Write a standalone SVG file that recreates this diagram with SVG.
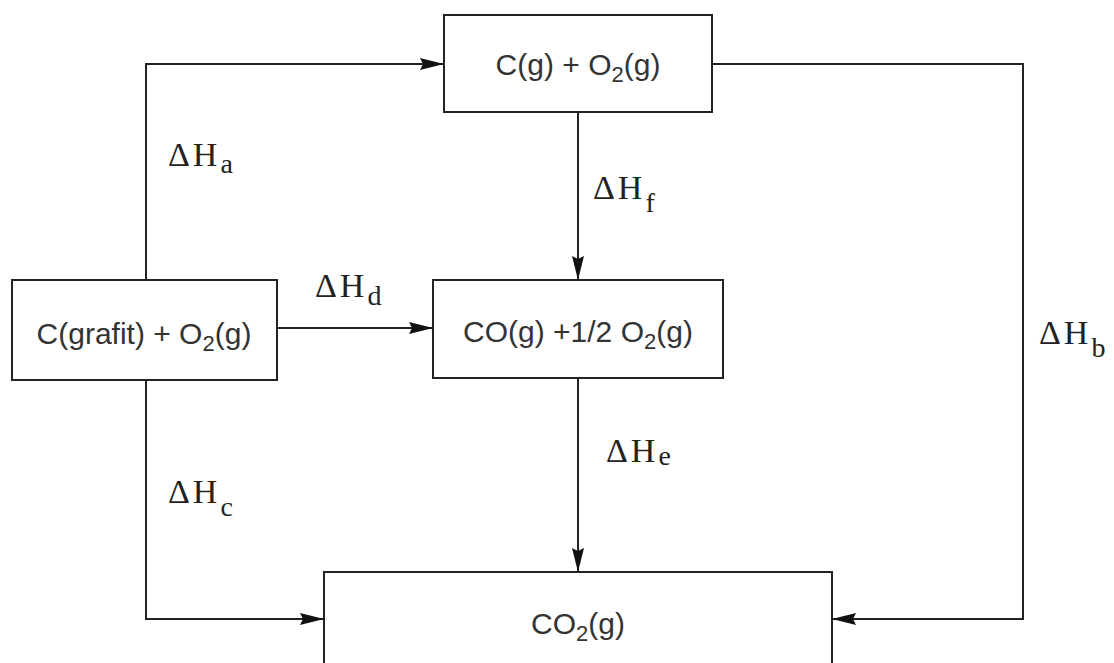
<svg xmlns="http://www.w3.org/2000/svg" width="1114" height="663" viewBox="0 0 1114 663">
<style>
.box{fill:#fff;stroke:#222;stroke-width:2}
.t{font-family:"Liberation Sans",Arial,sans-serif;font-size:30px;fill:#333;text-anchor:middle}
.sub{font-size:22px}
.dh{font-family:"Liberation Serif","Times New Roman",serif;font-size:34px;fill:#222;letter-spacing:3px}
.ds{font-size:28px;letter-spacing:0}
.c{fill:none;stroke:#222;stroke-width:2}
</style>
<defs>
<marker id="ar" viewBox="0 0 24 14" refX="24" refY="7" markerWidth="24" markerHeight="14" markerUnits="userSpaceOnUse" orient="auto">
<path d="M0,1 L24,7 L0,13 L3,7 Z" fill="#111"/>
</marker>
</defs>
<rect width="1114" height="663" fill="#fff"/>
<g id="connectors">
<path class="c" d="M146,280 V64 H444" marker-end="url(#ar)"/>
<path class="c" d="M712,64 H1023 V619 H832" marker-end="url(#ar)"/>
<path class="c" d="M578,112 V280" marker-end="url(#ar)"/>
<path class="c" d="M277,328 H433" marker-end="url(#ar)"/>
<path class="c" d="M578,378 V572" marker-end="url(#ar)"/>
<path class="c" d="M146,380 V619 H324" marker-end="url(#ar)"/>
</g>
<g id="n-cg">
<rect class="box" x="444" y="15" width="268" height="97"/>
<text class="t" x="578" y="75">C(g) + O<tspan class="sub" dy="7">2</tspan><tspan dy="-7">(g)</tspan></text>
</g>
<g id="n-grafit">
<rect class="box" x="12" y="280" width="265" height="100"/>
<text class="t" x="144" y="344">C(grafit) + O<tspan class="sub" dy="7">2</tspan><tspan dy="-7">(g)</tspan></text>
</g>
<g id="n-co">
<rect class="box" x="433" y="280" width="290" height="98"/>
<text class="t" x="578" y="342">CO(g) +1/2 O<tspan class="sub" dy="7">2</tspan><tspan dy="-7">(g)</tspan></text>
</g>
<g id="n-co2">
<rect class="box" x="324" y="572" width="508" height="110"/>
<text class="t" x="578" y="634">CO<tspan class="sub" dy="7">2</tspan><tspan dy="-7">(g)</tspan></text>
</g>
<g id="labels">
<text class="dh" x="168" y="166">ΔH<tspan class="ds" dy="7">a</tspan></text>
<text class="dh" x="593" y="199">ΔH<tspan class="ds" dy="13">f</tspan></text>
<text class="dh" x="315" y="297">ΔH<tspan class="ds" dy="8">d</tspan></text>
<text class="dh" x="1039" y="344">ΔH<tspan class="ds" dy="13">b</tspan></text>
<text class="dh" x="606" y="462">ΔH<tspan class="ds" dy="3">e</tspan></text>
<text class="dh" x="168" y="503">ΔH<tspan class="ds" dy="13">c</tspan></text>
</g>
</svg>
